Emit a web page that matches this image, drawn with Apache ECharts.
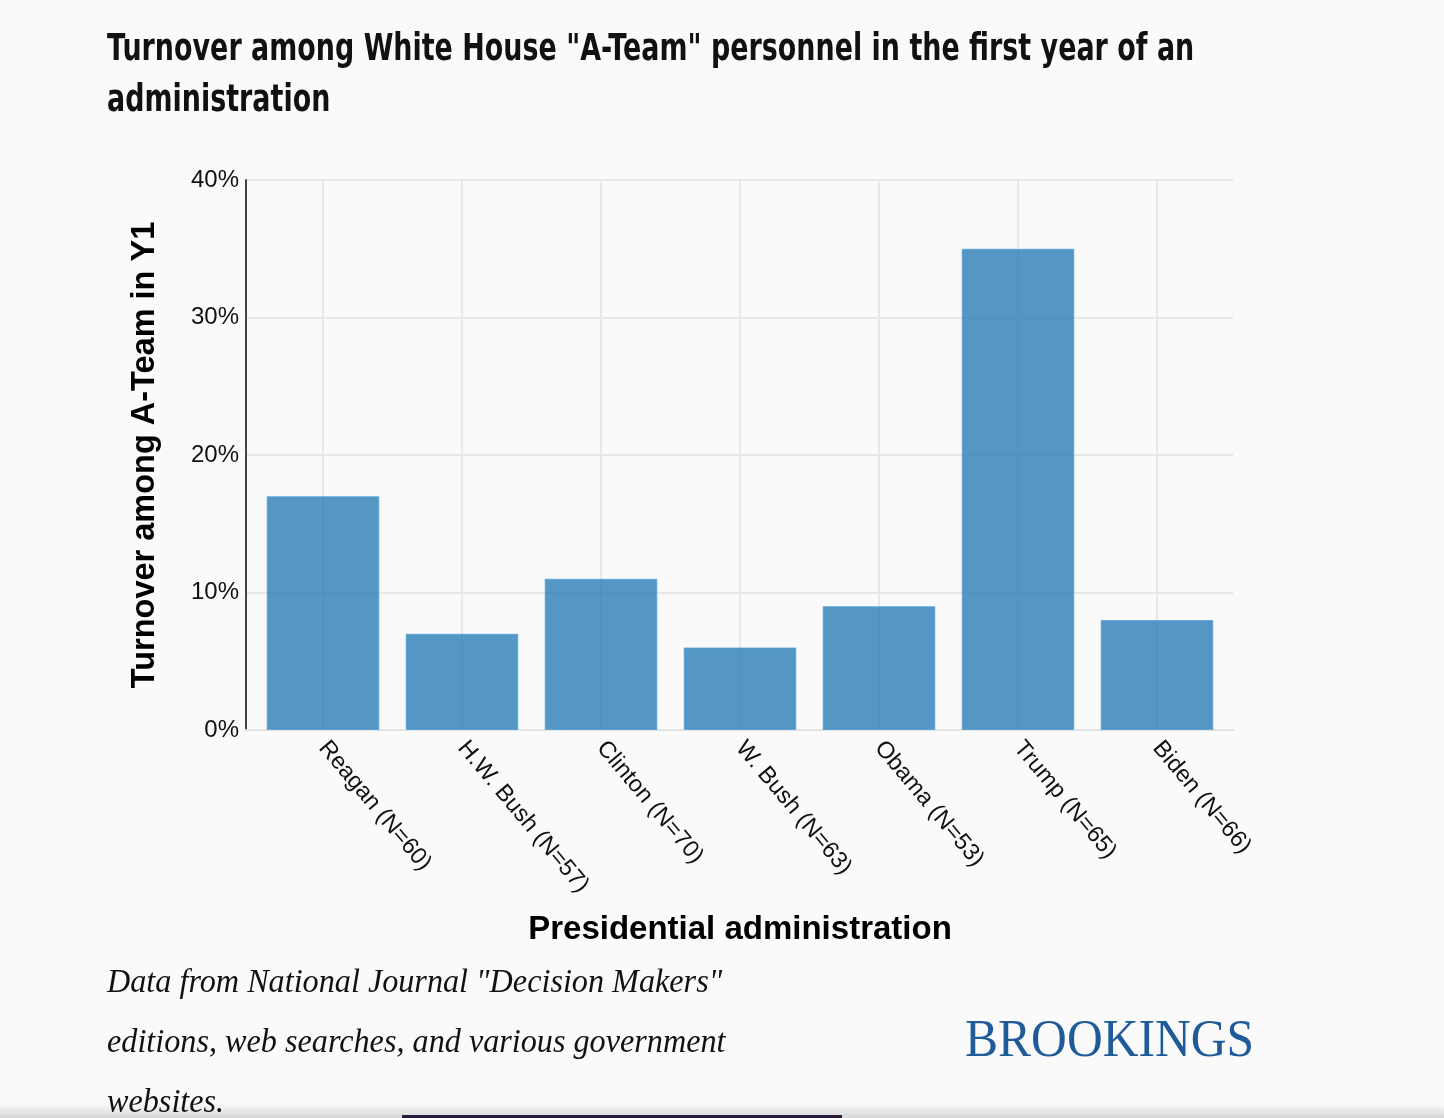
<!DOCTYPE html>
<html>
<head>
<meta charset="utf-8">
<script src="https://cdn.jsdelivr.net/npm/echarts@6/dist/echarts.min.js"></script>
<style>
html,body{margin:0;padding:0;background:#fafafa;}
#chart{width:1444px;height:1118px;}
</style>
</head>
<body>
<div id="chart"></div>
<script>
const categories = ["Reagan (N=60)", "H.W. Bush (N=57)", "Clinton (N=70)", "W. Bush (N=63)", "Obama (N=53)", "Trump (N=65)", "Biden (N=66)"];
const turnover = [17, 7, 11, 6, 9, 35, 8];
const yTicks = [0, 10, 20, 30, 40];
const titleLines = ['Turnover among White House "A-Team" personnel in the first year of an', 'administration'];
const sourceLines = ['Data from National Journal "Decision Makers"', 'editions, web searches, and various government', 'websites.'];

const yMin = yTicks[0], yMax = yTicks[yTicks.length - 1], yStep = yTicks[1] - yTicks[0];
const labelFont = '"Liberation Sans", Arial, sans-serif';

const chart = echarts.init(document.getElementById('chart'));
chart.setOption({
  backgroundColor: '#fafafa',
  animation: false,
  grid: [
    { left: 246, right: 211, top: 180, bottom: 388 },
    { left: 253.5, right: 217.5, top: 180, bottom: 388 }
  ],
  xAxis: [
    {
      gridIndex: 0, type: 'value', min: 0, max: 1,
      axisLine: { show: true, lineStyle: { color: '#e3e3e3', width: 2 } },
      axisTick: { show: false }, axisLabel: { show: false }, splitLine: { show: false }
    },
    {
      gridIndex: 1,
      type: 'category',
      data: categories,
      name: 'Presidential administration',
      nameLocation: 'middle',
      nameGap: 183,
      nameTextStyle: { fontFamily: labelFont, fontWeight: 'bold', fontSize: 33, color: '#000' },
      axisLine: { show: false },
      axisTick: { show: false },
      splitLine: { show: false },
      axisLabel: {
        rotate: -50,
        interval: 0,
        margin: 14,
        fontFamily: labelFont,
        fontSize: 23.5,
        color: '#111'
      }
    }
  ],
  yAxis: [
    {
      gridIndex: 0,
      type: 'value',
      min: yMin,
      max: yMax,
      interval: yStep,
      name: 'Turnover among A-Team in Y1',
      nameLocation: 'middle',
      nameGap: 84,
      nameTextStyle: { fontFamily: labelFont, fontWeight: 'bold', fontSize: 32.5, color: '#000' },
      axisLine: { show: true, lineStyle: { color: '#444', width: 2 } },
      axisTick: { show: false },
      splitLine: { show: true, lineStyle: { color: '#e8e8e8', width: 2 } },
      axisLabel: {
        margin: 7,
        formatter: v => v + '%',
        fontFamily: labelFont,
        fontSize: 24,
        color: '#111'
      }
    },
    {
      gridIndex: 1, type: 'value', min: yMin, max: yMax, interval: yStep,
      show: false, splitLine: { show: false }
    }
  ],
  series: [{
    type: 'bar',
    xAxisIndex: 1,
    yAxisIndex: 1,
    data: turnover,
    barCategoryGap: '19%',
    itemStyle: { color: '#1f77b4', opacity: 0.76, borderColor: '#4f9fd6', borderWidth: 1 },
    z: 3,
    markLine: {
      silent: true,
      symbol: ['none', 'none'],
      label: { show: false },
      lineStyle: { color: '#e8e8e8', width: 2, type: 'solid' },
      z: 1,
      data: categories.map(c => ({ xAxis: c }))
    }
  }],
  graphic: [
    ...titleLines.map((t, i) => ({
      type: 'text',
      left: 107,
      top: 32 + i * 51,
      scaleX: 0.728,
      style: {
        text: t,
        font: 'bold 37px "DejaVu Sans", sans-serif',
        fill: '#111'
      }
    })),
    ...sourceLines.map((t, i) => ({
      type: 'text',
      left: 107,
      top: 966 + i * 60,
      scaleX: 0.947,
      style: {
        text: t,
        font: 'italic 34px "Liberation Serif", "DejaVu Serif", serif',
        fill: '#111'
      }
    })),
    {
      type: 'text',
      left: 965,
      top: 1016,
      scaleX: 0.935,
      style: {
        text: 'BROOKINGS',
        font: '53px "Liberation Serif", "DejaVu Serif", serif',
        fill: '#1f5b98'
      }
    },
    {
      type: 'rect',
      left: 0,
      top: 1104,
      shape: { width: 1444, height: 14 },
      style: {
        fill: new echarts.graphic.LinearGradient(0, 0, 0, 1, [
          { offset: 0, color: 'rgba(0,0,0,0)' },
          { offset: 1, color: 'rgba(0,0,0,0.15)' }
        ])
      },
      z: 10
    },
    {
      type: 'rect',
      left: 402,
      top: 1115,
      shape: { width: 440, height: 3 },
      style: { fill: '#2a1b3a' },
      z: 11
    }
  ]
});
</script>
</body>
</html>
